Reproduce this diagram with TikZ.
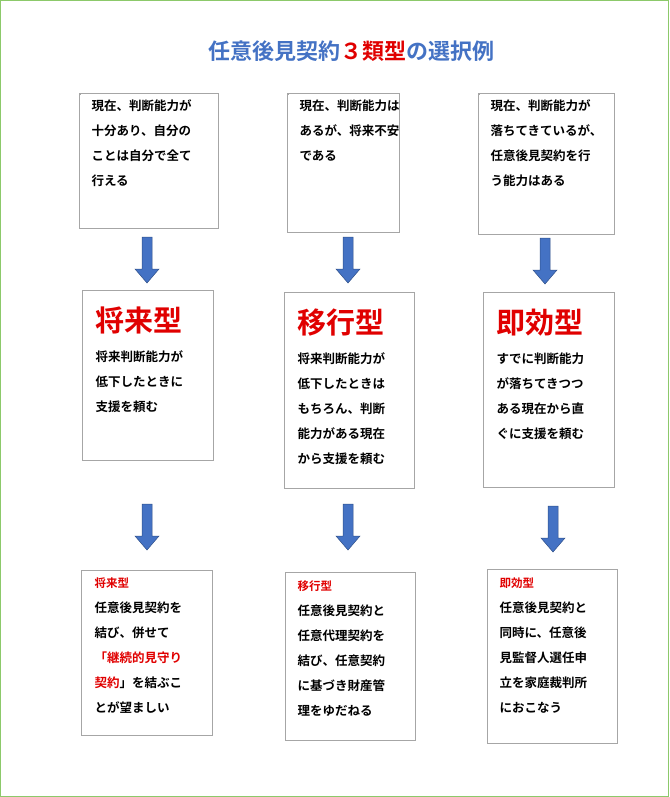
\documentclass[tikz,border=0pt]{standalone}
\usepackage{fontspec}
\setmainfont{Noto Sans CJK JP}[BoldFont={Noto Sans CJK JP Bold}]
\newfontfamily\cjkb{Noto Sans CJK JP Bold}
\definecolor{tblue}{HTML}{4472C4}
\definecolor{tred}{HTML}{E00000}
\definecolor{bgreen}{HTML}{8CC96A}
\begin{document}
\begin{tikzpicture}[x=1pt,y=-1pt,
  box/.style={draw=black!35,line width=0.6pt,anchor=north west,inner sep=0pt},
  txt/.style={anchor=north west,align=left,font=\cjkb\fontsize{12.5}{25}\selectfont,text=black},
  big/.style={anchor=north west,font=\cjkb\fontsize{29}{32}\selectfont,text=tred},
  arr/.style={fill=tblue,draw=tblue!70!black,line width=0.5pt}]
\useasboundingbox (0,0) rectangle (669,797);
\draw[bgreen,line width=1.2pt] (0.6,0.6) rectangle (668.4,796.4);
\node[anchor=center,font=\cjkb\fontsize{22}{24}\selectfont,text=tblue] (title) at (351,51) {任意後見契約\textcolor{tred}{３類型}の選択例};
% row 1
\draw[black!35] (79,93) rectangle (218,228) node[pos=0,box] (a1){};
\draw[black!35] (287,93) rectangle (399,232) node[pos=0,box] (b1){};
\draw[black!35] (478,93) rectangle (614,234) node[pos=0,box] (c1){};
\node[txt] at (88,96) {現在、判断能力が\\十分あり、自分の\\ことは自分で全て\\行える};
\node[txt] at (296,96) {現在、判断能力は\\あるが、将来不安\\である};
\node[txt] at (487,96) {現在、判断能力が\\落ちてきているが、\\任意後見契約を行\\う能力はある};
% row 2
\draw[black!35] (82,290) rectangle (213,460);
\draw[black!35] (284,292) rectangle (414,488);
\draw[black!35] (483,292) rectangle (614,487);
\node[big] at (92,303) {将来型};
\node[big] at (294,305) {移行型};
\node[big] at (493,305) {即効型};
\node[txt] at (92,347) {将来判断能力が\\低下したときに\\支援を頼む};
\node[txt] at (294,349) {将来判断能力が\\低下したときは\\もちろん、判断\\能力がある現在\\から支援を頼む};
\node[txt] at (493,349) {すでに判断能力\\が落ちてきつつ\\ある現在から直\\ぐに支援を頼む};
% row 3
\draw[black!35] (81,570) rectangle (212,735);
\draw[black!35] (285,572) rectangle (415,740);
\draw[black!35] (487,569) rectangle (617,743);
\node[txt] at (91,574) {\textcolor{tred}{\fontsize{11.5}{25}\selectfont 将来型}\\任意後見契約を\\結び、併せて\\\textcolor{tred}{「継続的見守り}\\\textcolor{tred}{契約}」を結ぶこ\\とが望ましい};
\node[txt] at (294,577) {\textcolor{tred}{\fontsize{11.5}{25}\selectfont 移行型}\\任意後見契約と\\任意代理契約を\\結び、任意契約\\に基づき財産管\\理をゆだねる};
\node[txt] at (496,574) {\textcolor{tred}{\fontsize{11.5}{25}\selectfont 即効型}\\任意後見契約と\\同時に、任意後\\見監督人選任申\\立を家庭裁判所\\におこなう};
% arrows
\foreach \x/\y in {147/237,348/237,545/238,147/504,348/504,553/506}{
  \draw[arr] (\x-5,\y) -- (\x+5,\y) -- (\x+5,\y+32) -- (\x+12,\y+32) -- (\x,\y+46) -- (\x-12,\y+32) -- (\x-5,\y+32) -- cycle;
}
\end{tikzpicture}
\end{document}
